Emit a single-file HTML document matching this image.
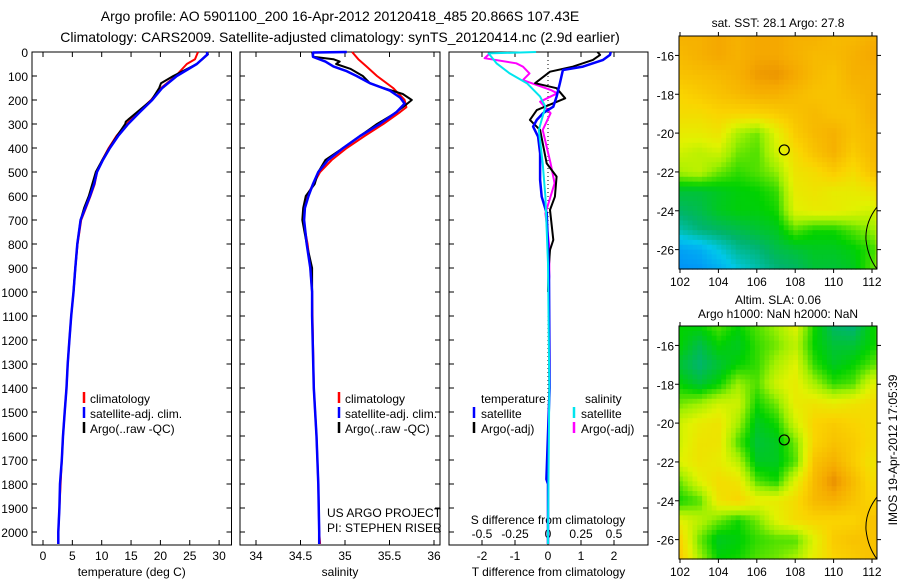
<!DOCTYPE html>
<html><head><meta charset="utf-8"><style>
html,body{margin:0;padding:0;background:#fff;}
svg{display:block;font-family:"Liberation Sans",sans-serif;}
</style></head><body>
<svg id="fig" width="900" height="580" viewBox="0 0 900 580">
<text x="340" y="21" font-size="14" text-anchor="middle">Argo profile: AO 5901100_200 16-Apr-2012 20120418_485 20.866S 107.43E</text>
<text x="340" y="42" font-size="14" text-anchor="middle">Climatology: CARS2009. Satellite-adjusted climatology: synTS_20120414.nc (2.9d earlier)</text>
<g id="g"></g>
</svg>
<script>
// ---------- data ----------
const depthTicks=[0,100,200,300,400,500,600,700,800,900,1000,1100,1200,1300,1400,1500,1600,1700,1800,1900,2000];
const tempTicks=[0,5,10,15,20,25,30];
const salTicks=[34,34.5,35,35.5,36];
const salTickLabels=["34","34.5","35","35.5","36"];
const dTTicks=[-2,-1,0,1,2];
const dSTicks=[-0.5,-0.25,0,0.25,0.5];
const dSTickLabels=["-0.5","-0.25","0","0.25","0.5"];

const tClimDepth=[0,30,50,100,150,200,250,300,350,400,450,500,550,600,650,700,800,900,1000,1100,1200,1300,1400,1500,1600,1700,1800,1900,2000,2050];
const tClim=[26.4,25.9,24.5,22.6,20.1,18.4,16.3,14.2,12.5,11.2,10.1,9.2,8.8,8.1,7.3,6.5,5.9,5.5,5.2,4.8,4.5,4.2,4.0,3.7,3.4,3.2,3.0,2.8,2.6,2.6];
const tSatDepth=[0,10,50,100,150,200,250,300,350,400,450,500,550,600,650,700,800,900,1000,1100,1200,1300,1400,1500,1600,1700,1800,1900,2000,2050];
const tSat=[27.9,28.0,26.2,22.8,20.3,18.6,16.5,14.5,12.8,11.4,10.2,9.2,8.7,8.0,7.2,6.4,5.85,5.5,5.2,4.8,4.5,4.2,4.0,3.7,3.4,3.2,2.9,2.8,2.6,2.6];
const tArgoDepth=[0,10,50,100,130,150,200,290,300,350,400,450,500,550,600,650,700,800,900,1000];
const tArgo=[28.0,28.1,26.2,22.2,20.1,19.8,18.5,14.1,14.0,12.6,11.3,10.1,9.0,8.4,7.8,7.0,6.4,5.85,5.5,5.2];

const sClimDepth=[0,30,60,100,150,200,230,250,300,350,400,450,500,600,700,800,900,1000,1400,1600,1800,2000,2050];
const sClim=[35.08,35.15,35.24,35.36,35.54,35.67,35.69,35.62,35.43,35.22,35.02,34.85,34.72,34.57,34.53,34.58,34.61,34.63,34.65,34.68,34.70,34.71,34.72];
const sSatDepth=[0,2,20,40,60,80,100,130,160,190,215,250,300,350,400,450,500,550,600,650,700,800,900,1000,1100,1400,1600,1800,2000,2050];
const sSat=[35.02,34.64,34.64,34.78,34.87,35.02,35.13,35.28,35.50,35.62,35.67,35.58,35.39,35.17,34.98,34.81,34.70,34.64,34.59,34.55,34.54,34.57,34.61,34.63,34.63,34.65,34.68,34.70,34.71,34.71];
const sArgoDepth=[0,20,30,40,50,70,100,130,150,175,200,230,260,300,350,400,450,500,550,600,650,700,800,900,1000];
const sArgo=[34.63,34.64,34.87,34.94,34.90,35.06,35.20,35.28,35.43,35.65,35.75,35.65,35.54,35.36,35.17,34.98,34.78,34.70,34.66,34.56,34.53,34.52,34.57,34.63,34.63];

const dTSatDepth=[0,12,33,61,75,130,186,228,255,283,311,353,422,533,603,672,811,936,1400,1780,1800,2000,2050];
const dTSat=[1.9,1.88,1.67,1.06,0.45,0.36,0.26,0.16,-0.15,-0.34,-0.45,-0.30,-0.24,-0.24,-0.19,-0.04,0.0,0.03,0.05,-0.05,0.0,0.0,0.0];
const dTArgoDepth=[0,12,33,61,82,130,151,193,242,283,325,464,519,603,658,783,825,900,1000];
const dTArgo=[1.5,1.58,1.36,0.76,0.06,-0.39,0.26,0.52,-0.34,-0.55,-0.24,-0.04,0.26,0.21,0.06,0.16,0.06,0.02,0.0];
const dSSatDepth=[0,6,47,89,130,186,228,325,464,603,880,1400,2000,2050];
const dSSat=[-0.09,-0.45,-0.39,-0.29,-0.16,-0.06,-0.02,-0.07,-0.04,-0.02,0.0,0.01,0.0,0.0];
const dSArgoDepth=[6,26,47,61,89,117,158,172,207,255,325,464,547,672,811,936,1000];
const dSArgo=[-0.44,-0.48,-0.24,-0.19,-0.14,-0.19,0.02,0.07,-0.06,0.02,-0.04,0.02,0.05,-0.02,0.01,0.01,0.0];

// map fields (rows lat -15..-27, cols lon 102..113), normalized colour value
const sstGrid=[
[.88,.88,.9,.88,.9,.9,.88,.88,.86,.86,.88,.9],
[.86,.88,.9,.88,.9,.9,.88,.86,.86,.88,.9,.9],
[.84,.85,.86,.88,.92,.93,.9,.86,.84,.88,.88,.9],
[.8,.82,.84,.86,.88,.88,.86,.84,.84,.86,.88,.9],
[.78,.78,.8,.8,.8,.82,.84,.86,.84,.84,.88,.9],
[.74,.74,.76,.66,.62,.72,.82,.86,.88,.84,.86,.9],
[.7,.68,.7,.62,.6,.7,.78,.84,.88,.82,.86,.9],
[.66,.68,.62,.58,.6,.64,.76,.78,.82,.78,.84,.9],
[.5,.5,.52,.54,.55,.58,.74,.76,.74,.74,.76,.86],
[.46,.48,.52,.54,.54,.56,.72,.74,.74,.72,.7,.84],
[.4,.44,.46,.48,.5,.52,.6,.56,.56,.6,.64,.76],
[.28,.3,.36,.42,.44,.48,.5,.52,.52,.54,.58,.7],
[.25,.26,.3,.36,.4,.44,.46,.5,.5,.52,.6,.72]];
const slaGrid=[
[.55,.55,.6,.55,.6,.65,.72,.56,.46,.44,.55,.6],
[.55,.48,.55,.52,.58,.62,.68,.55,.5,.5,.55,.6],
[.5,.45,.5,.55,.58,.66,.72,.58,.52,.55,.6,.65],
[.55,.5,.55,.65,.6,.7,.74,.66,.58,.6,.72,.74],
[.62,.65,.7,.7,.56,.62,.74,.76,.74,.76,.78,.78],
[.7,.74,.76,.66,.52,.56,.7,.8,.82,.8,.78,.76],
[.7,.76,.76,.6,.5,.52,.62,.8,.84,.82,.78,.76],
[.72,.76,.74,.68,.52,.52,.6,.84,.88,.82,.76,.78],
[.62,.72,.78,.76,.6,.56,.72,.86,.94,.86,.78,.8],
[.56,.6,.76,.8,.74,.74,.78,.86,.88,.84,.8,.84],
[.72,.68,.62,.56,.62,.72,.78,.8,.8,.8,.84,.86],
[.8,.62,.52,.54,.58,.6,.6,.72,.82,.84,.84,.86],
[.82,.66,.55,.56,.6,.62,.66,.74,.8,.82,.84,.86]];
const lonTicks=[102,104,106,108,110,112];
const latTicks=[-16,-18,-20,-22,-24,-26];
const argoLon=107.43, argoLat=-20.866;

// ---------- drawing ----------
const NS="http://www.w3.org/2000/svg";
const G=document.getElementById('g');
function mk(tag,attrs,parent){const e=document.createElementNS(NS,tag);for(const k in attrs)e.setAttribute(k,attrs[k]);(parent||G).appendChild(e);return e;}
const top0=52, ppd=0.24;
const yD=d=>top0+d*ppd;
const P1={l:32,r:231.5}, P2={l:240,r:440}, P3={l:449,r:648}, PB=545;
const xT=t=>43+t*5.87;
const xS=s=>256+(s-34)*89;
const xdT=v=>548+v*33;
const xdS=v=>548+v*132;

function frame(P,name){
  const r=mk('rect',{x:P.l,y:top0,width:P.r-P.l,height:PB-top0,fill:'none',stroke:'#000','stroke-width':1});
  
  
  depthTicks.forEach(d=>{
    const y=yD(d);
    const a=mk('line',{x1:P.l,x2:P.l+5,y1:y,y2:y,stroke:'#000'});
    
    
    const b=mk('line',{x1:P.r-5,x2:P.r,y1:y,y2:y,stroke:'#000'});
    
    
  });
}
function xticks(P,vals,labels,fx,title){
  vals.forEach((v,i)=>{
    const x=fx(v);
    const t1=mk('line',{x1:x,x2:x,y1:PB,y2:PB-5,stroke:'#000'});
    
    
    const t2=mk('line',{x1:x,x2:x,y1:top0,y2:top0+5,stroke:'#000'});
    
    
    const tx=mk('text',{x:x,y:560,'font-size':12,'text-anchor':'middle'});
    tx.textContent=labels[i];
    
    
  });
  const tt=mk('text',{x:(P.l+P.r)/2,y:576,'font-size':12,'text-anchor':'middle'});
  tt.textContent=title;
  
  
}
function line(depths,vals,fx,color,w,name){
  const pts=depths.map((d,i)=>fx(vals[i]).toFixed(1)+','+yD(d).toFixed(1)).join(' ');
  const p=mk('polyline',{points:pts,fill:'none',stroke:color,'stroke-width':w,'stroke-linejoin':'round'});
  
  
}
function txt(x,y,s,name,size,anchor){
  const t=mk('text',{x:x,y:y,'font-size':size||12,'text-anchor':anchor||'start'});
  t.textContent=s;
  
  
  return t;
}
function legMark(x,y,color,name){
  const l=mk('line',{x1:x,x2:x,y1:y-11,y2:y,stroke:color,'stroke-width':2.5});
  
  
}

// panel 1
frame(P1,'temperature-panel');
depthTicks.forEach(d=>{txt(28,yD(d)+5,String(d),'depth-tick-label',12,'end');});
xticks(P1,tempTicks,tempTicks.map(String),xT,'temperature (deg C)');
line(tClimDepth,tClim,xT,'#ff0000',2,'temp-climatology-line');
line(tArgoDepth,tArgo,xT,'#000000',2,'temp-argo-line');
line(tSatDepth,tSat,xT,'#0000ff',2.5,'temp-satellite-line');
[['climatology','#ff0000'],['satellite-adj. clim.','#0000ff'],['Argo(..raw -QC)','#000']].forEach((e,i)=>{
  legMark(84,403+i*15,e[1],'legend-marker');
  txt(90,403+i*15,e[0],'legend-entry');
});

// panel 2
frame(P2,'salinity-panel');
xticks(P2,salTicks,salTickLabels,xS,'salinity');
line(sClimDepth,sClim,xS,'#ff0000',2,'sal-climatology-line');
line(sArgoDepth,sArgo,xS,'#000000',2,'sal-argo-line');
line(sSatDepth,sSat,xS,'#0000ff',2.5,'sal-satellite-line');
[['climatology','#ff0000'],['satellite-adj. clim.','#0000ff'],['Argo(..raw -QC)','#000']].forEach((e,i)=>{
  legMark(339,403+i*15,e[1],'legend-marker');
  txt(345,403+i*15,e[0],'legend-entry');
});
txt(327,517,'US ARGO PROJECT','project-label');
txt(327,532,'PI: STEPHEN RISER','pi-label');

// panel 3
frame(P3,'difference-panel');
xticks(P3,dTTicks,dTTicks.map(String),xdT,'T difference from climatology');
dSTicks.forEach((v,i)=>{txt(xdS(v),538,dSTickLabels[i],'s-diff-tick-label',12,'middle');});
txt(548,524,'S difference from climatology','s-diff-axis-title',12,'middle');
const zl=mk('line',{x1:548,x2:548,y1:top0,y2:PB,stroke:'#000','stroke-dasharray':'1,3'});


line(dSArgoDepth,dSArgo,xdS,'#ff00ff',2,'sdiff-argo-line');
line(dTArgoDepth,dTArgo,xdT,'#000000',2,'tdiff-argo-line');
line(dTSatDepth,dTSat,xdT,'#0000ff',2.5,'tdiff-satellite-line');
line(dSSatDepth,dSSat,xdS,'#00e5ee',2,'sdiff-satellite-line');
txt(481,403,'temperature','legend-heading');
txt(585,403,'salinity','legend-heading');
legMark(474,418,'#0000ff','legend-marker'); txt(481,418,'satellite','legend-entry');
legMark(474,433,'#000','legend-marker'); txt(481,433,'Argo(-adj)','legend-entry');
legMark(574,418,'#00e5ee','legend-marker'); txt(581,418,'satellite','legend-entry');
legMark(574,433,'#ff00ff','legend-marker'); txt(581,433,'Argo(-adj)','legend-entry');

// maps
const stops=[[0.2,[0,120,255]],[0.35,[0,200,235]],[0.45,[0,180,110]],[0.55,[0,210,0]],[0.65,[160,240,0]],[0.72,[225,242,0]],[0.8,[250,212,0]],[0.9,[245,168,0]],[1.0,[215,105,0]]];
function cmap(v){
  if(v<=stops[0][0])return stops[0][1];
  for(let i=1;i<stops.length;i++){if(v<=stops[i][0]){const a=stops[i-1],b=stops[i];const t=(v-a[0])/(b[0]-a[0]);return a[1].map((c,k)=>Math.round(c+(b[1][k]-c)*t));}}
  return stops[stops.length-1][1];
}
function sample(grid,lon,lat){
  const fx=Math.min(Math.max(lon-102,0),10.999), fy=Math.min(Math.max(-15-lat,0),11.999);
  const i=Math.floor(fy), j=Math.floor(fx), u=fx-j, w=fy-i;
  return grid[i][j]*(1-u)*(1-w)+grid[i][j+1]*u*(1-w)+grid[i+1][j]*(1-u)*w+grid[i+1][j+1]*u*w;
}
function map(grid,top,name){
  const L=679,R=877,B=top+233,PX=19.2;
  const xL=lon=>680+(lon-102)*PX;
  const yL=lat=>top+(-15-lat)*19.42;
  const lonMax=102+(R-680)/PX;
  const gm=mk('g',{});
  
  
  const step=0.25;
  for(let lat=-15;lat>-27;lat-=step){
    for(let lon=102-0.1;lon<lonMax;lon+=step){
      const v=sample(grid,lon+step/2,lat-step/2);
      const c=cmap(v);
      const x0=Math.max(xL(lon),L), x1=Math.min(xL(lon+step),R);
      if(x1<=x0)continue;
      const cell=mk('rect',{x:x0,y:yL(lat),width:x1-x0+(x1<R?0.6:0),height:step*19.42+0.6,fill:'rgb('+c.join(',')+')'},gm);
      
      
    }
  }
  const fr=mk('rect',{x:L,y:top,width:R-L,height:B-top,fill:'none',stroke:'#000'});
  
  
  lonTicks.forEach(v=>{
    const x=xL(v);
    const a=mk('line',{x1:x,x2:x,y1:B,y2:B+4,stroke:'#000'});
    
    
    const b=mk('line',{x1:x,x2:x,y1:top,y2:top-4,stroke:'#000'});
    
    
    txt(x,B+17,String(v),'lon-tick-label',12,'middle');
  });
  latTicks.forEach(v=>{
    const y=yL(v);
    const a=mk('line',{x1:L-4,x2:L,y1:y,y2:y,stroke:'#000'});
    
    
    const b=mk('line',{x1:R,x2:R+4,y1:y,y2:y,stroke:'#000'});
    
    
    txt(L-5,y+5,String(v),'lat-tick-label',12,'end');
  });
  const co=mk('path',{d:'M'+R+','+yL(-23.8)+' Q'+(R-12)+','+yL(-24.6)+' '+(R-11)+','+yL(-25.5)+' Q'+(R-9)+','+yL(-26.4)+' '+R+','+yL(-27),fill:'none',stroke:'#000'});
  
  
  const ci=mk('circle',{cx:xL(argoLon),cy:yL(argoLat),r:5,fill:'none',stroke:'#000','stroke-width':1.2});
  
  
}
map(sstGrid,36,'sst-map');
txt(778,27,'sat. SST: 28.1 Argo: 27.8','sst-map-title',12,'middle');
map(slaGrid,326,'sla-map');
txt(778,304,'Altim. SLA: 0.06','sla-map-title-1',12,'middle');
txt(778,318,'Argo h1000: NaN h2000: NaN','sla-map-title-2',12,'middle');
const st=txt(0,0,'IMOS 19-Apr-2012 17:05:39','timestamp-label',12,'middle');
st.setAttribute('transform','translate(897,450) rotate(-90)');
</script>
</body></html>
